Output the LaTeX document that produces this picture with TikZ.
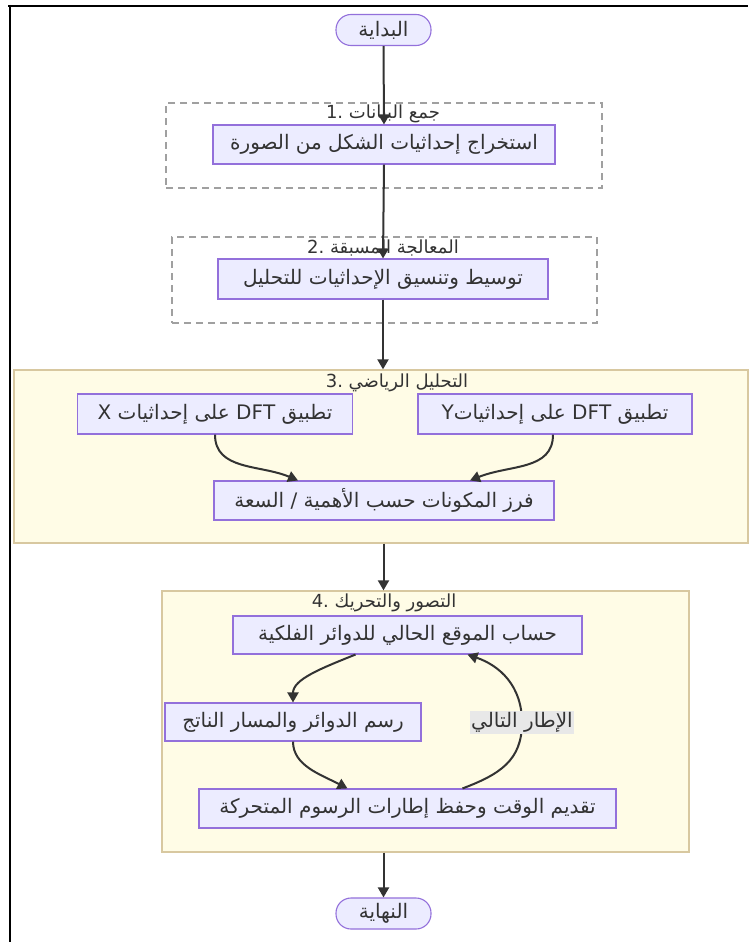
\documentclass[tikz,border=0pt]{standalone}
\usepackage{fontspec}
\TeXXeTstate=1
\newfontfamily\arabicfont[Script=Arabic]{DejaVu Sans}
\usetikzlibrary{arrows.meta}
\definecolor{nodefill}{HTML}{ECECFF}
\definecolor{nodedraw}{HTML}{9370DB}
\definecolor{secfill}{HTML}{FFFCE6}
\definecolor{secdraw}{HTML}{D8C8A0}
\definecolor{txt}{HTML}{333333}
\definecolor{dashc}{HTML}{A0A0A0}
\definecolor{lblbg}{HTML}{E8E8E8}
\pgfdeclarelayer{bg}
\pgfsetlayers{bg,main}
\newcommand{\AR}[1]{\beginR #1\endR}
\begin{document}
\begin{tikzpicture}[x=1pt,y=-1pt,
  every node/.style={text=txt, inner sep=0pt},
  nodetext/.style={font=\arabicfont\fontsize{20}{24}\selectfont},
  titletext/.style={font=\arabicfont\fontsize{18}{22}\selectfont},
  procbox/.style={nodetext, draw=nodedraw, fill=nodefill, line width=1.1pt},
  stadium/.style={nodetext, draw=nodedraw, fill=nodefill, line width=1.1pt, rounded corners=15pt, minimum width=95pt, minimum height=31pt},
  dashsec/.style={draw=dashc, dash pattern=on 7pt off 5pt, line width=1.3pt, fill=white},
  solidsec/.style={draw=secdraw, line width=1.3pt, fill=secfill},
  flow/.style={draw=txt, line width=2pt, -{Triangle[length=10pt,width=11pt]}},
  edgelabel/.style={nodetext, fill=lblbg, inner sep=1.5pt}
]
\useasboundingbox (0,0) rectangle (748,942);

\begin{pgfonlayer}{bg}
  \fill[white] (0,0) rectangle (748,942);
  \draw[black, line width=2.2pt] (8,6) -- (748,6);
  \draw[black, line width=2.2pt] (10,5) -- (10,942);
  \node[dashsec, minimum width=436pt, minimum height=85pt] (sec1) at (384,145.5) {};
  \node[titletext] (t1) at (383,114) {.1~\AR{جمع البيانات}};
  \node[dashsec, minimum width=425pt, minimum height=86pt] (sec2) at (384.5,280) {};
  \node[titletext] (t2) at (383,248) {.2~\AR{المعالجة المسبقة}};
  \node[solidsec, minimum width=734pt, minimum height=173pt] (sec3) at (381,456.5) {};
  \node[titletext] (t3) at (397,383) {.3~\AR{التحليل الرياضي}};
  \node[solidsec, minimum width=527pt, minimum height=261pt] (sec4) at (425.5,721.5) {};
  \node[titletext] (t4) at (384,603) {.4~\AR{التصور والتحريك}};
\end{pgfonlayer}

\node[stadium] (start) at (383.5,30) {\AR{البداية}};
\node[procbox, minimum width=342pt, minimum height=39pt] (extract) at (384,144.5) {\AR{استخراج إحداثيات الشكل من الصورة}};
\node[procbox, minimum width=330pt, minimum height=40pt] (norm) at (383,279) {\AR{توسيط وتنسيق الإحداثيات للتحليل}};
\node[procbox, minimum width=275pt, minimum height=40pt] (dftx) at (215,414) {\AR{تطبيق \beginL DFT\endL{} على إحداثيات \beginL X\endL}};
\node[procbox, minimum width=274pt, minimum height=40pt] (dfty) at (555,414) {\AR{تطبيق \beginL DFT\endL{} على إحداثيات\beginL Y\endL}};
\node[procbox, minimum width=340pt, minimum height=39pt] (sort) at (384,500.5) {\AR{فرز المكونات حسب الأهمية / السعة}};
\node[procbox, minimum width=349pt, minimum height=38pt] (pos) at (407.5,635) {\AR{حساب الموقع الحالي للدوائر الفلكية}};
\node[procbox, minimum width=256pt, minimum height=38pt] (draw) at (293,722) {\AR{رسم الدوائر والمسار الناتج}};
\node[procbox, minimum width=417pt, minimum height=39pt] (adv) at (407.5,808.5) {\AR{تقديم الوقت وحفظ إطارات الرسوم المتحركة}};
\node[stadium] (finish) at (383.5,913.5) {\AR{النهاية}};

\draw[flow] (start.south) -- (extract.north);
\draw[flow] (extract.south) -- (norm.north);
\draw[flow] (norm.south) -- (sec3.north -| norm.south);
\draw[flow] (sec3.south -| start.south) -- (sec4.north -| start.south);
\draw[flow] (sec4.south -| finish.north) -- (finish.north);

\draw[flow] (dftx.south) .. controls ([yshift=-36pt]dftx.south) and ([xshift=-124pt,yshift=16pt]sort.north) .. ([xshift=-86pt]sort.north);
\draw[flow] ([xshift=-2pt]dfty.south) .. controls ([xshift=-2pt,yshift=-36pt]dfty.south) and ([xshift=126pt,yshift=16pt]sort.north) .. ([xshift=86pt]sort.north);

\draw[flow] ([xshift=-52pt]pos.south) .. controls ([xshift=-87pt,yshift=-14pt]pos.south) and ([yshift=23pt]draw.north) .. (draw.north);
\draw[flow] (draw.south) .. controls ([yshift=-24pt]draw.south) and ([xshift=-87pt,yshift=14pt]adv.north) .. ([xshift=-60pt]adv.north);
\draw[flow] ([xshift=55pt]adv.north) .. controls ([xshift=92pt,yshift=14pt]adv.north) and ([xshift=114.5pt,yshift=-106pt]pos.south) .. ([xshift=114.5pt,yshift=-68pt]pos.south) node[edgelabel] (lbl) {\AR{الإطار التالي}}
  .. controls ([xshift=114.5pt,yshift=-31pt]pos.south) and ([xshift=92pt,yshift=-11pt]pos.south) .. ([xshift=60pt]pos.south);
\end{tikzpicture}
\end{document}
